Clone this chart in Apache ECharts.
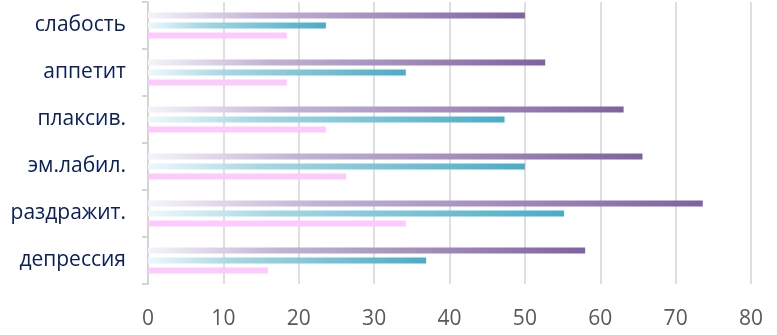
<!DOCTYPE html>
<html><head><meta charset="utf-8">
<script src="https://cdn.jsdelivr.net/npm/echarts@6/dist/echarts.min.js"></script>
<style>html,body{margin:0;padding:0;background:#fff}#c{width:777px;height:335px}</style>
</head><body><div id="c"></div>
<script>
const categories = ['депрессия','раздражит.','эм.лабил.','плаксив.','аппетит','слабость'];
const seriesPink   = [15.9, 34.2, 26.3, 23.6, 18.4, 18.4];
const seriesTeal   = [36.9, 55.2, 50.0, 47.3, 34.2, 23.6];
const seriesPurple = [58.0, 73.6, 65.6, 63.1, 52.7, 50.0];
const xTicks = [0,10,20,30,40,50,60,70,80];

const grad = (stops) => new echarts.graphic.LinearGradient(0,0,1,0, stops);
const chart = echarts.init(document.getElementById('c'), null, {renderer:'canvas'});
chart.setOption({
  animation:false,
  grid:{left:148, right:26, top:2, bottom:51, containLabel:false},
  xAxis:{type:'value', min:xTicks[0], max:xTicks[xTicks.length-1], interval:10,
    axisLine:{show:false}, axisTick:{show:false},
    axisLabel:{color:'#595959', fontSize:21, fontFamily:'Open Sans', margin:25},
    splitLine:{lineStyle:{color:'#d4d4d4', width:1.5}}},
  yAxis:{type:'category', data:categories,
    axisLine:{show:true, lineStyle:{color:'#d4d4d4', width:2}},
    axisTick:{show:true, length:6, lineStyle:{color:'#d4d4d4', width:2}},
    axisLabel:{color:'#0a2060', fontSize:21, fontFamily:'Open Sans', margin:22}},
  series:[
    {type:'bar', data:seriesPurple, barWidth:6, barGap:'67%',
      itemStyle:{color:grad([{offset:0,color:'#f6f3f9'},{offset:0.3,color:'#c2b3d5'},{offset:1,color:'#7f62a0'}])}},
    {type:'bar', data:seriesTeal, barWidth:6, barGap:'67%',
      itemStyle:{color:grad([{offset:0,color:'#eef8fb'},{offset:0.3,color:'#a6d7e4'},{offset:1,color:'#4aacc6'}])}},
    {type:'bar', data:seriesPink, barWidth:6, barGap:'67%',
      itemStyle:{color:'#fdcafd'}}
  ]
});
</script></body></html>
